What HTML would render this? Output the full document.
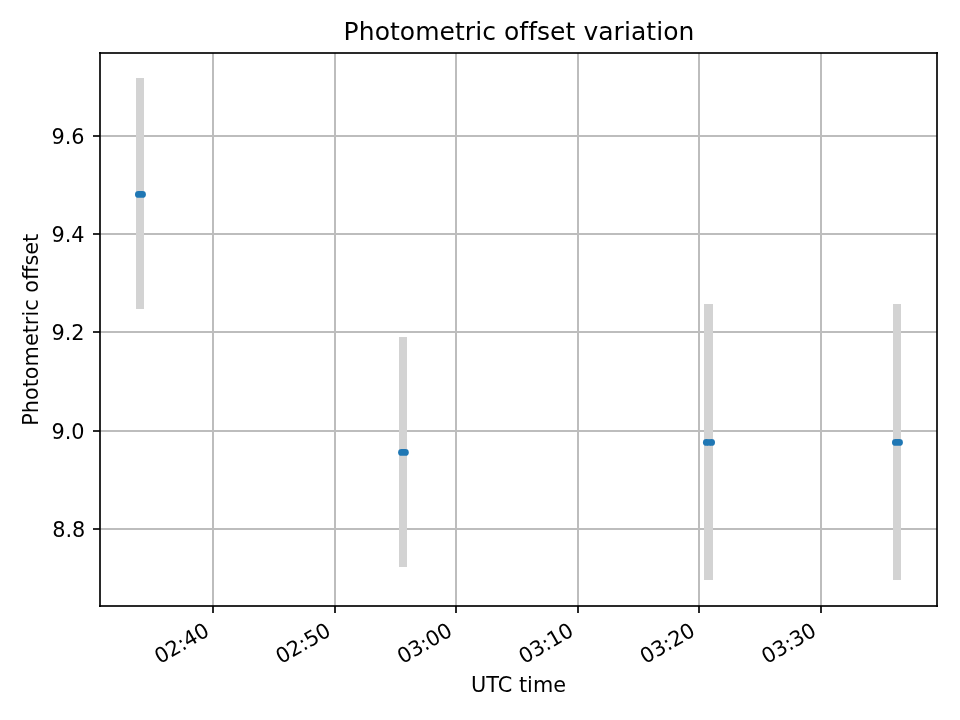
<!DOCTYPE html><html><head><meta charset="utf-8"><title>Photometric offset variation</title><style>html,body{margin:0;padding:0;background:#fff;}svg{display:block;will-change:transform;}text{font-family:"DejaVu Sans","Liberation Sans",sans-serif;fill:#000;}</style></head><body>
<svg width="960" height="720" viewBox="0 0 960 720">
<rect x="0" y="0" width="960" height="720" fill="#fff"/>
<g shape-rendering="crispEdges" fill="#bdbdbd">
<rect x="212" y="53" width="2" height="553"/>
<rect x="334" y="53" width="2" height="553"/>
<rect x="455" y="53" width="2" height="553"/>
<rect x="577" y="53" width="2" height="553"/>
<rect x="698" y="53" width="2" height="553"/>
<rect x="820" y="53" width="2" height="553"/>
<rect x="100" y="135" width="837" height="2"/>
<rect x="100" y="233" width="837" height="2"/>
<rect x="100" y="331" width="837" height="2"/>
<rect x="100" y="430" width="837" height="2"/>
<rect x="100" y="528" width="837" height="2"/>
</g>
<g shape-rendering="crispEdges" fill="#d3d3d3">
<rect x="136" y="78" width="8" height="231"/>
<rect x="399" y="337" width="8" height="230"/>
<rect x="704" y="304" width="9" height="276"/>
<rect x="893" y="304" width="8" height="276"/>
</g>
<g fill="#1f77b4">
<rect x="135.00" y="191.00" width="10.90" height="6.85" rx="3.42" ry="3.42"/>
<rect x="398.10" y="448.95" width="10.70" height="6.90" rx="3.45" ry="3.45"/>
<rect x="892.00" y="438.95" width="10.90" height="6.90" rx="3.45" ry="3.45"/>
<circle cx="706.4" cy="442.4" r="3.45"/>
<circle cx="711.55" cy="442.4" r="3.45"/>
<circle cx="709.0" cy="442.45" r="3.1"/>
</g>
<g shape-rendering="crispEdges" fill="#000" fill-opacity="0.835">
<rect x="99" y="52" width="2" height="555"/>
<rect x="936" y="52" width="2" height="555"/>
<rect x="99" y="52" width="839" height="2"/>
<rect x="99" y="605" width="839" height="2"/>
<rect x="212" y="606" width="2" height="7"/>
<rect x="334" y="606" width="2" height="7"/>
<rect x="455" y="606" width="2" height="7"/>
<rect x="577" y="606" width="2" height="7"/>
<rect x="698" y="606" width="2" height="7"/>
<rect x="820" y="606" width="2" height="7"/>
<rect x="93" y="135" width="7" height="2"/>
<rect x="93" y="233" width="7" height="2"/>
<rect x="93" y="331" width="7" height="2"/>
<rect x="93" y="430" width="7" height="2"/>
<rect x="93" y="528" width="7" height="2"/>
</g>
<text x="519.0" y="39.8" font-size="25.0px" letter-spacing="0.05px" text-anchor="middle">Photometric offset variation</text>
<text x="84.6" y="143.60" font-size="20.8333px" text-anchor="end">9.6</text>
<text x="84.6" y="241.60" font-size="20.8333px" text-anchor="end">9.4</text>
<text x="84.6" y="339.60" font-size="20.8333px" text-anchor="end">9.2</text>
<text x="84.6" y="438.60" font-size="20.8333px" text-anchor="end">9.0</text>
<text x="85.3" y="536.60" font-size="20.8333px" text-anchor="end">8.8</text>
<text transform="translate(37.8 329.8) rotate(-90)" font-size="20.8333px" text-anchor="middle">Photometric offset</text>
<text x="518.5" y="692.0" font-size="20.8333px" text-anchor="middle">UTC time</text>
<text transform="translate(210.60 634.80) rotate(-30)" font-size="20.8333px" letter-spacing="-0.25px" text-anchor="end">02:40</text>
<text transform="translate(332.00 634.80) rotate(-30)" font-size="20.8333px" letter-spacing="-0.25px" text-anchor="end">02:50</text>
<text transform="translate(453.40 634.80) rotate(-30)" font-size="20.8333px" letter-spacing="-0.25px" text-anchor="end">03:00</text>
<text transform="translate(574.80 634.80) rotate(-30)" font-size="20.8333px" letter-spacing="-0.25px" text-anchor="end">03:10</text>
<text transform="translate(696.20 634.80) rotate(-30)" font-size="20.8333px" letter-spacing="-0.25px" text-anchor="end">03:20</text>
<text transform="translate(817.60 634.80) rotate(-30)" font-size="20.8333px" letter-spacing="-0.25px" text-anchor="end">03:30</text>
</svg></body></html>
